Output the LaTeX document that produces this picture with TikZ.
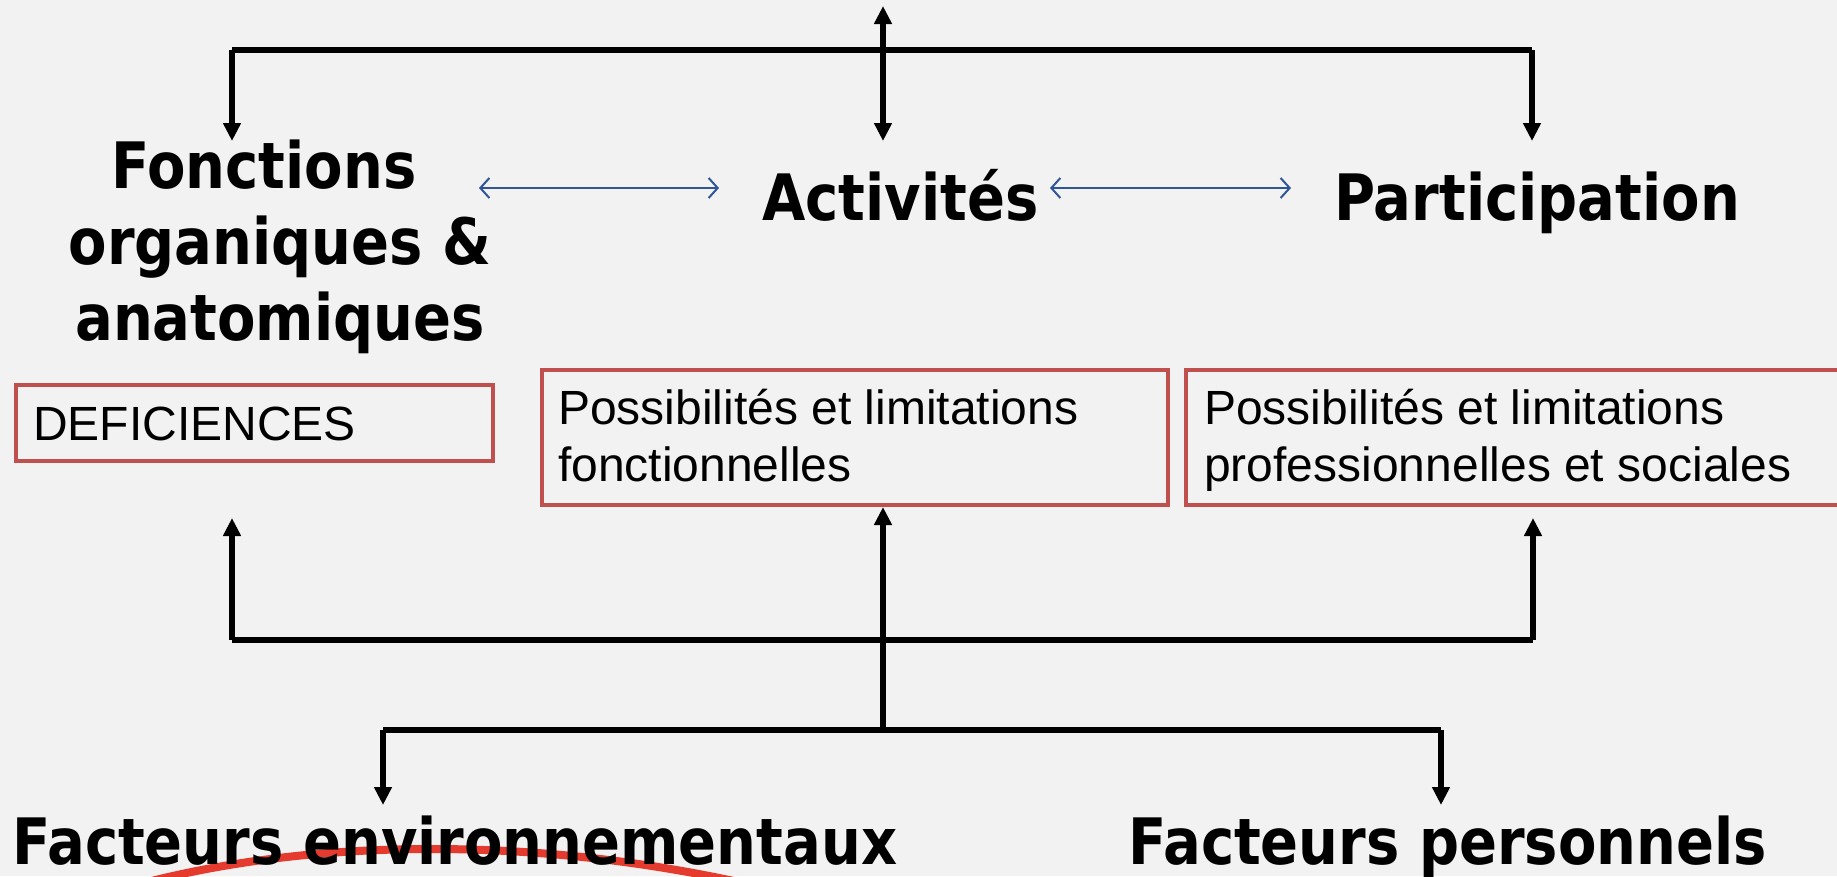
\documentclass[tikz,border=0pt]{standalone}
\usepackage{fontspec}
\setmainfont{Liberation Sans}
\newfontfamily\headfont[FakeStretch=0.875]{DejaVu Sans Bold}
\usetikzlibrary{arrows.meta}
\definecolor{pagegray}{HTML}{F2F2F2}
\definecolor{boxred}{HTML}{C0504D}
\definecolor{linkblue}{HTML}{2F5597}
\definecolor{markred}{HTML}{E53A2E}

\begin{document}
\begin{tikzpicture}[x=1pt,y=-1pt,
  head/.style={font=\headfont\fontsize{64}{76}\selectfont, inner sep=0pt, align=center},
  plain/.style={font=\fontsize{48}{57}\selectfont, inner sep=0pt, align=left},
  redbox/.style={draw=boxred, line width=4pt, fill=pagegray, inner sep=0pt, anchor=north west},
  bar/.style={line width=6pt},
  feed/.style={line width=5.5pt, -{Triangle[length=18pt,width=17pt]}},
  feedboth/.style={line width=5.5pt, {Triangle[length=18pt,width=17pt]}-{Triangle[length=18pt,width=17pt]}},
  twoway/.style={draw=linkblue, line width=2pt,
    {Straight Barb[length=9pt,width=20pt]}-{Straight Barb[length=9pt,width=20pt]}}
]
% page
\fill[pagegray] (0,0) rectangle (1837,876);
\useasboundingbox (0,0) rectangle (1837,876);

% red stroke under the environment heading
\draw[markred, line width=8pt] (125,888) .. controls (310,836) and (545,836) .. (765,888);

% headings (a multi-line node sits on the baseline of its last line)
\node[head, anchor=base] (fonct) at (280,340) {Fonctions\hspace*{32pt}\\organiques \&\\anatomiques};
\node[head, anchor=base] (activ) at (900.5,220) {Activités};
\node[head, anchor=base] (partic) at (1537,220) {Participation};
\node[head, anchor=base west] (envir) at (12,864) {Facteurs environnementaux};
\node[head, anchor=base west] (perso) at (1128,864) {Facteurs personnels};

% boxes
\node[redbox, minimum width=477pt, minimum height=76pt] (defbox) at (14,383) {};
\node[plain, anchor=base west] (deftxt) at (33,440) {DEFICIENCES};
\node[redbox, minimum width=626pt, minimum height=135pt] (fbox) at (540,368) {};
\node[plain, anchor=base west] (ftxt) at (558,424) {Possibilités et limitations};
\node[plain, anchor=base west] (ftxt2) at (558,481) {fonctionnelles};
\node[redbox, minimum width=716pt, minimum height=135pt] (pbox) at (1184,368) {};
\node[plain, anchor=base west] (ptxt) at (1204,424) {Possibilités et limitations};
\node[plain, anchor=base west] (ptxt2) at (1204,481) {professionnelles et sociales};

% top distribution
\coordinate (topL) at (232,50);
\coordinate (topR) at (1532,50);
\coordinate (topUp) at (883,6);
\coordinate (fonIn) at (232,141);
\coordinate (actIn) at (883,141);
\coordinate (parIn) at (1532,141);
\draw[bar] (topL) -- (topR);
\draw[feed] (topL) -- (fonIn);
\draw[feed] (topR) -- (parIn);
\draw[feedboth] (topUp) -- (actIn);

% links between the three headings
\coordinate (la) at (479,188);
\coordinate (lb) at (719,188);
\coordinate (ra) at (1050,188);
\coordinate (rb) at (1291,188);
\draw[twoway] (la) -- (lb);
\draw[twoway] (ra) -- (rb);

% bottom distribution
\coordinate (midL) at (232,640);
\coordinate (midR) at (1533,640);
\coordinate (defIn) at (232,518);
\coordinate (parBoxIn) at (1533,518);
\coordinate (hub) at (883,730);
\coordinate (lowL) at (383,730);
\coordinate (lowR) at (1441,730);
\coordinate (envIn) at (383,805);
\coordinate (perIn) at (1441,805);
\draw[bar] (midL) -- (midR);
\draw[feed] (midL) -- (defIn);
\draw[feed] (midR) -- (parBoxIn);
\draw[feed] (hub) -- (hub |- fbox.south);
\draw[bar] (lowL) -- (lowR);
\draw[feed] (lowL) -- (envIn);
\draw[feed] (lowR) -- (perIn);
\end{tikzpicture}
\end{document}
